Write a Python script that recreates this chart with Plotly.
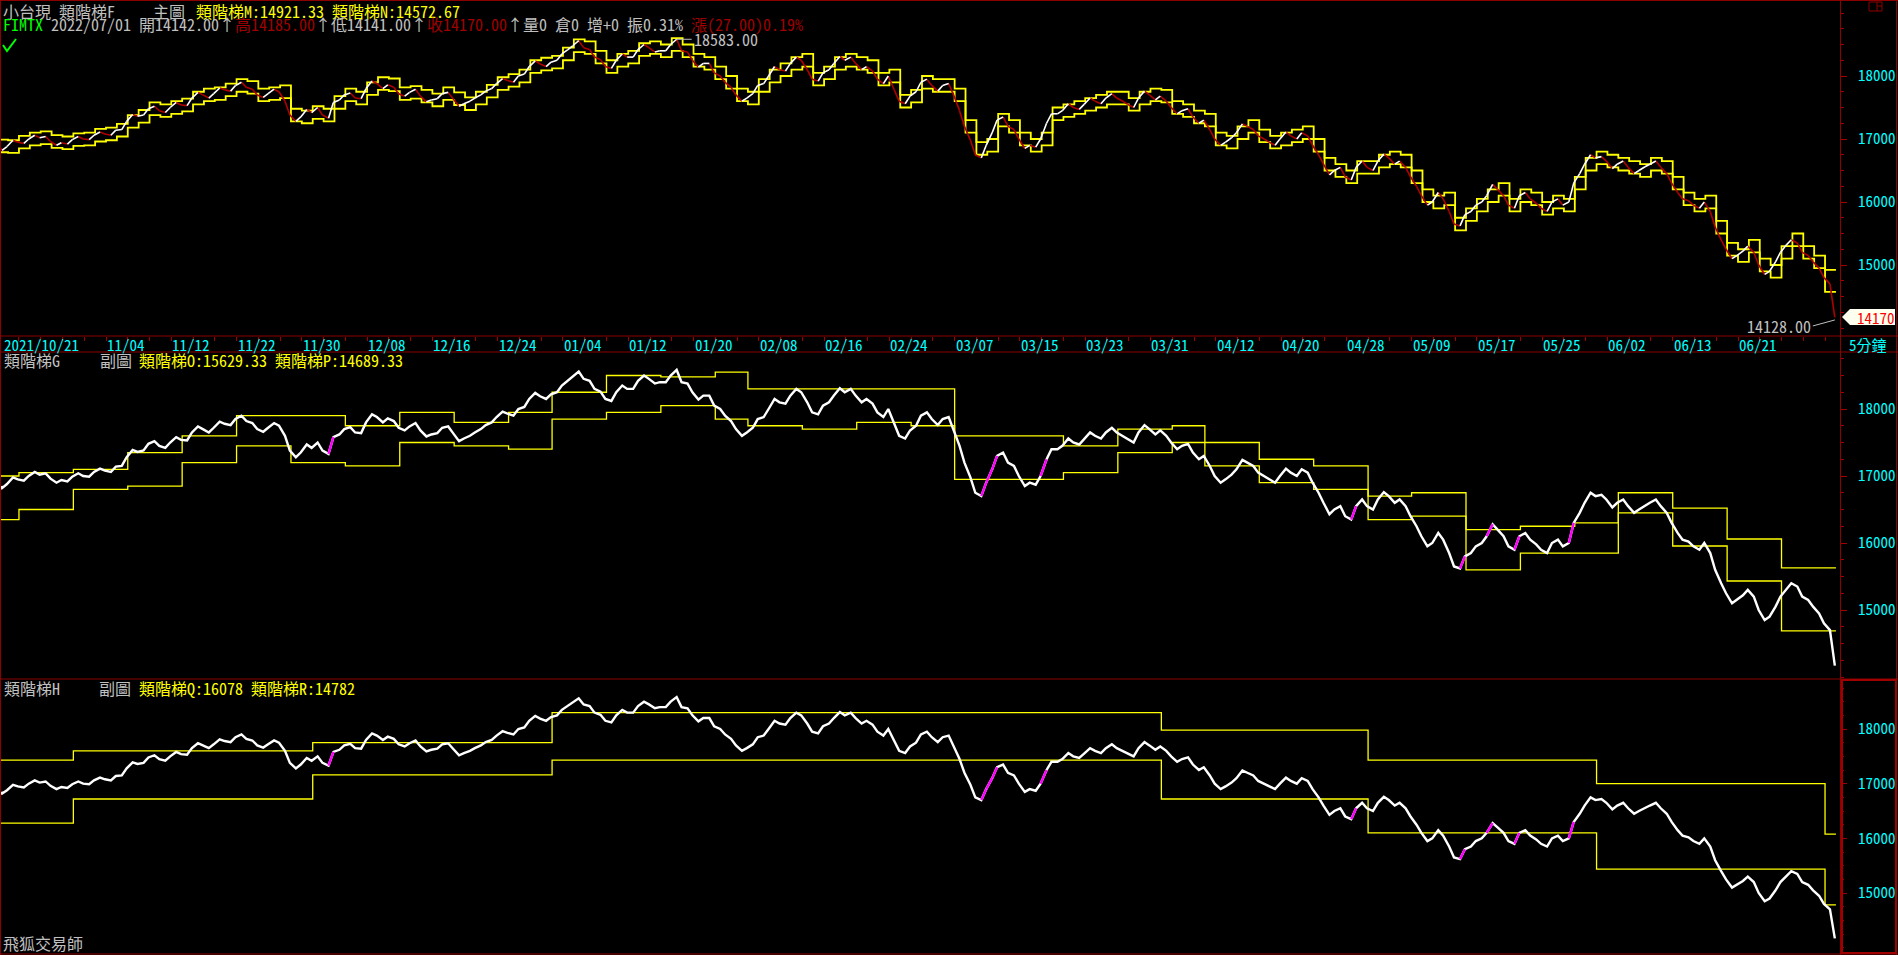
import plotly.graph_objects as go

# ---------------- data ----------------
axis_labels = ["2021/10/21", "11/04", "11/12", "11/22", "11/30", "12/08", "12/16", "12/24",
               "01/04", "01/12", "01/20", "02/08", "02/16", "02/24", "03/07", "03/15",
               "03/23", "03/31", "04/12", "04/20", "04/28", "05/09", "05/17", "05/25",
               "06/02", "06/13", "06/21"]
axis_label_days = [0, 10, 16, 22, 28, 34, 40, 46, 52, 58, 64, 70, 76, 82, 88, 94,
                   100, 106, 112, 118, 124, 130, 136, 142, 148, 154, 160]
y_ticks = [15000, 16000, 17000, 18000]

first_open = 16850
close = [16880, 16950, 17000, 17020, 16960, 16940, 16990, 17000, 17060, 17080,
         17140, 17280, 17360, 17480, 17450, 17500, 17540, 17650, 17700, 17720,
         17780, 17850, 17820, 17700, 17720, 17750, 17380, 17350, 17420, 17380,
         17580, 17700, 17650, 17800, 17880, 17860, 17720, 17740, 17680, 17620,
         17720, 17640, 17560, 17650, 17760, 17880, 17930, 18000, 18150, 18190,
         18220, 18350, 18480, 18450, 18300, 18150, 18250, 18300, 18420, 18450,
         18400, 18500, 18400, 18250, 18200, 18050, 17900, 17700, 17650, 17850,
         18000, 18100, 18200, 18250, 17950, 18050, 18200, 18250, 18200, 18150,
         17950, 18000, 17600, 17680, 17900, 17850, 17850, 17700, 17200, 16750,
         16900, 17300, 17200, 17000, 16900, 17000, 17400, 17450, 17500, 17550,
         17600, 17650, 17650, 17550, 17650, 17700, 17680, 17500, 17450, 17350,
         17300, 17000, 16950, 17100, 17200, 17050, 16950, 17000, 17050, 17100,
         16900, 16600, 16500, 16400, 16550, 16550, 16650, 16700, 16650, 16400,
         16100, 16000, 16050, 15650, 15800, 15950, 16100, 16200, 15950, 16100,
         16050, 15900, 16000, 15950, 16300, 16600, 16700, 16650, 16600, 16550,
         16500, 16600, 16550, 16300, 16050, 15950, 16000, 15600, 15250, 15150,
         15300, 15000, 14900, 15200, 15400, 15200, 15050, 14800, 14170]
# intraday swing (the excursion inside each session)
swing = [16820, 16980, 16930, 17060, 17040, 16900, 16920, 17040, 16990, 17110,
         17060, 17150, 17390, 17380, 17520, 17420, 17580, 17530, 17740, 17650,
         17810, 17760, 17900, 17790, 17660, 17790, 17600, 17280, 17470, 17500,
         17330, 17620, 17730, 17640, 17920, 17800, 17820, 17680, 17790, 17590,
         17640, 17740, 17520, 17600, 17700, 17800, 17960, 17900, 18030, 18240,
         18150, 18250, 18420, 18560, 18420, 18260, 18120, 18350, 18300, 18500,
         18380, 18400, 18583, 18380, 18140, 18200, 18000, 17820, 17600, 17720,
         17880, 18150, 18080, 18300, 18100, 17920, 18100, 18310, 18300, 18100,
         18080, 17880, 17780, 17560, 17750, 17950, 17760, 17880, 17450, 16980,
         16700, 17100, 17350, 17150, 16850, 16870, 17250, 17400, 17560, 17470,
         17650, 17560, 17720, 17600, 17500, 17760, 17620, 17600, 17400, 17480,
         17250, 17150, 16900, 17020, 17240, 17150, 17000, 16900, 17110, 17000,
         17050, 16750, 16430, 16550, 16350, 16650, 16500, 16760, 16600, 16550,
         16250, 15950, 16150, 15850, 15620, 15850, 16000, 16280, 16100, 15900,
         16150, 15980, 15850, 16050, 16000, 16450, 16750, 16720, 16530, 16650,
         16450, 16560, 16650, 16450, 16150, 16020, 15900, 15850, 15400, 15100,
         15220, 15200, 14850, 15050, 15320, 15350, 15150, 14950, 14700]

ladder_M = [16990, 16980, 17050, 17100, 17120, 17060, 17040, 17090, 17100, 17160,
            17180, 17240, 17380, 17460, 17580, 17550, 17600, 17640, 17750, 17800,
            17820, 17880, 17950, 17920, 17800, 17820, 17850, 17480, 17450, 17520,
            17480, 17680, 17800, 17750, 17900, 17980, 17960, 17820, 17840, 17780,
            17720, 17820, 17740, 17660, 17750, 17860, 17980, 18030, 18100, 18250,
            18290, 18320, 18450, 18580, 18550, 18400, 18250, 18350, 18400, 18520,
            18550, 18500, 18600, 18500, 18350, 18300, 18150, 18000, 17800, 17750,
            17950, 18100, 18200, 18300, 18350, 18050, 18150, 18300, 18350, 18300,
            18250, 18050, 18100, 17700, 17780, 18000, 17950, 17950, 17800, 17300,
            16950, 17000, 17400, 17300, 17100, 17000, 17100, 17500, 17550, 17600,
            17650, 17700, 17750, 17750, 17650, 17750, 17800, 17780, 17600, 17550,
            17450, 17400, 17100, 17050, 17200, 17300, 17150, 17050, 17100, 17150,
            17200, 17000, 16700, 16600, 16500, 16650, 16650, 16750, 16800, 16750,
            16500, 16200, 16100, 16150, 15750, 15900, 16050, 16200, 16300, 16050,
            16200, 16150, 16000, 16100, 16050, 16400, 16700, 16800, 16750, 16700,
            16650, 16600, 16700, 16650, 16400, 16150, 16050, 16100, 15700, 15350,
            15250, 15400, 15100, 15000, 15300, 15500, 15300, 15150, 14921.33]
ladder_N = [16790, 16780, 16850, 16900, 16920, 16860, 16840, 16890, 16900, 16960,
            16980, 17040, 17180, 17260, 17380, 17350, 17400, 17440, 17550, 17600,
            17620, 17680, 17750, 17720, 17600, 17620, 17650, 17280, 17250, 17320,
            17280, 17480, 17600, 17550, 17700, 17780, 17760, 17620, 17640, 17580,
            17520, 17620, 17540, 17460, 17550, 17660, 17780, 17830, 17900, 18050,
            18090, 18120, 18250, 18380, 18350, 18200, 18050, 18150, 18200, 18320,
            18350, 18300, 18400, 18300, 18150, 18100, 17950, 17800, 17600, 17550,
            17750, 17900, 18000, 18100, 18150, 17850, 17950, 18100, 18150, 18100,
            18050, 17850, 17900, 17500, 17580, 17800, 17750, 17750, 17600, 17100,
            16750, 16800, 17200, 17100, 16900, 16800, 16900, 17300, 17350, 17400,
            17450, 17500, 17550, 17550, 17450, 17550, 17600, 17580, 17400, 17350,
            17250, 17200, 16900, 16850, 17000, 17100, 16950, 16850, 16900, 16950,
            17000, 16800, 16500, 16400, 16300, 16450, 16450, 16550, 16600, 16550,
            16300, 16000, 15900, 15950, 15550, 15700, 15850, 16000, 16100, 15850,
            16000, 15950, 15800, 15900, 15850, 16200, 16500, 16600, 16550, 16500,
            16450, 16400, 16500, 16450, 16200, 15950, 15850, 15900, 15500, 15150,
            15050, 15200, 14900, 14800, 15100, 15300, 15100, 14950, 14572.67]

week_start = [0, 2, 7, 12, 17, 22, 27, 32, 37, 42, 47, 51, 56, 61, 66, 69, 74, 79,
              84, 88, 93, 98, 103, 108, 111, 116, 121, 126, 130, 135, 140, 145, 149,
              154, 159, 164]
ladder_O = [17000, 17050, 17100, 17350, 17600, 17900, 17900, 17750, 17950, 17800,
            17950, 18250, 18500, 18480, 18550, 18300, 18300, 18300, 18300, 17600,
            17600, 17450, 17700, 17750, 17500, 17250, 17150, 16700, 16750, 16200,
            16250, 16300, 16750, 16522, 16060, 15629.33]
ladder_P = [16350, 16500, 16800, 16850, 17200, 17450, 17200, 17150, 17500, 17450,
            17400, 17850, 17950, 18050, 17850, 17750, 17700, 17800, 17750, 16950,
            16950, 17050, 17350, 17500, 17150, 16900, 16800, 16350, 16400, 15600,
            15850, 15850, 16450, 15955, 15433, 14689.33]

month_start = [0, 7, 29, 51, 69, 84, 107, 126, 147, 168]
ladder_Q = [17430, 17600, 17750, 18300, 18300, 18300, 17980, 17430, 17000, 16078]
ladder_R = [16280, 16720, 17160, 17430, 17430, 17430, 16720, 16100, 15436, 14782]

peak_value = 18583.00
low_value = 14128.00
last_price = 14170
quote_date = "2022/07/01"
quote_open, quote_high, quote_low, quote_close = 14142.00, 14185.00, 14141.00, 14170.00
quote_change, quote_pct, quote_amp = 27.00, 0.19, 0.31
symbol = "FIMTX"

# ---------------- geometry / style ----------------
W, H = 1898, 955
ML, MR = 1, 58
PW = W - ML - MR
PX_PER_DAY = 10.88
T0 = (ML + 2.8) / PX_PER_DAY
T1 = T0 + PW / PX_PER_DAY
FONT = "Noto Sans Mono CJK TC, Noto Sans CJK TC, monospace"
RED = "#8c0000"
GRAY = "#c0c0c0"
YEL = "#ffff00"
CYAN = "#00ffff"
DRED = "#a00000"


def xp(px):
    return (px - ML) / PW


def yp(py):
    return 1 - py / H


def vrange(py_top, py_bot, py_ref, ppk):
    return [18000 - (py_bot - py_ref) / ppk * 1000, 18000 + (py_ref - py_top) / ppk * 1000]


fig = go.Figure()


def steps(starts, vals, axis):
    xs = list(starts) + [169]
    ys = list(vals) + [vals[-1]]
    return go.Scatter(x=xs, y=ys, mode="lines",
                      line=dict(color=YEL, width=1.8 if axis == 1 else 1.3, shape="hv"),
                      xaxis="x" if axis == 1 else f"x{axis}", yaxis="y" if axis == 1 else f"y{axis}",
                      hoverinfo="skip", showlegend=False)


days = list(range(len(close)))
px_path = [T0 + 0.02]
py_path = [first_open]
for d in days:
    px_path += [d + 0.45, d + 0.9]
    py_path += [swing[d], close[d]]

# panel 1 : ladders M / N and the price drawn white (rising) / dark red (falling)
fig.add_trace(steps(days, ladder_M, 1))
fig.add_trace(steps(days, ladder_N, 1))
up_x, up_y, dn_x, dn_y = [], [], [], []
for i in range(len(px_path) - 1):
    seg_x = [px_path[i], px_path[i + 1], None]
    seg_y = [py_path[i], py_path[i + 1], None]
    if py_path[i + 1] >= py_path[i]:
        up_x += seg_x
        up_y += seg_y
    else:
        dn_x += seg_x
        dn_y += seg_y
fig.add_trace(go.Scatter(x=dn_x, y=dn_y, mode="lines", line=dict(color="#b00000", width=1.6),
                         hoverinfo="skip", showlegend=False))
fig.add_trace(go.Scatter(x=up_x, y=up_y, mode="lines", line=dict(color="#ffffff", width=1.6),
                         hoverinfo="skip", showlegend=False))

# panels 2 and 3
for ax, (la, lb, starts) in zip([2, 3], [(ladder_O, ladder_P, week_start), (ladder_Q, ladder_R, month_start)]):
    fig.add_trace(steps(starts, la, ax))
    fig.add_trace(steps(starts, lb, ax))
    fig.add_trace(go.Scatter(x=px_path, y=py_path, mode="lines", line=dict(color="#ffffff", width=2.4),
                             xaxis=f"x{ax}", yaxis=f"y{ax}", hoverinfo="skip", showlegend=False))
    mx, my = [], []
    for i in range(len(px_path) - 1):
        if py_path[i + 1] - py_path[i] > 170:
            mx += [px_path[i], px_path[i + 1], None]
            my += [py_path[i], py_path[i + 1], None]
    fig.add_trace(go.Scatter(x=mx, y=my, mode="lines", line=dict(color="#ff00ff", width=2.4),
                             xaxis=f"x{ax}", yaxis=f"y{ax}", hoverinfo="skip", showlegend=False))

yaxis_common = dict(side="right", showgrid=False, zeroline=False, showline=False,
                    tickmode="array", tickvals=y_ticks, ticktext=[str(v) for v in y_ticks],
                    ticks="outside", ticklen=6, tickwidth=1, tickcolor=DRED,
                    tickfont=dict(family=FONT, size=15, color=CYAN), ticklabelstandoff=8,
                    minor=dict(ticks="outside", ticklen=3, tickwidth=1, tickcolor=DRED,
                               tickmode="linear", tick0=0, dtick=250, showgrid=False))
xaxis_common = dict(range=[T0, T1], showgrid=False, zeroline=False, showline=False,
                    showticklabels=False, domain=[0, 1])

fig.update_layout(
    width=W, height=H, margin=dict(l=ML, r=MR, t=0, b=0),
    paper_bgcolor="#000000", plot_bgcolor="#000000", showlegend=False,
    xaxis=dict(**xaxis_common, anchor="y", ticks="outside", tickmode="array",
               tickvals=list(range(0, 170, 2)), ticklen=4, tickcolor=DRED, tickwidth=1),
    xaxis2=dict(**xaxis_common, anchor="y2", matches="x"),
    xaxis3=dict(**xaxis_common, anchor="y3", matches="x"),
    yaxis=dict(**yaxis_common, domain=[yp(336), yp(0)], range=vrange(0, 336, 76, 63), anchor="x"),
    yaxis2=dict(**yaxis_common, domain=[yp(679), yp(352)], range=vrange(352, 679, 409, 67), anchor="x2"),
    yaxis3=dict(**yaxis_common, domain=[yp(953), yp(679)], range=vrange(679, 953, 729, 54.67), anchor="x3"),
)

shapes = []


def hline(py, x0=0, x1=W, color=RED, width=1):
    shapes.append(dict(type="line", xref="paper", yref="paper", x0=xp(x0), x1=xp(x1), y0=yp(py), y1=yp(py),
                       line=dict(color=color, width=width), layer="above"))


def vline(px, y0=0, y1=H, color=RED, width=1):
    shapes.append(dict(type="line", xref="paper", yref="paper", x0=xp(px), x1=xp(px), y0=yp(y0), y1=yp(y1),
                       line=dict(color=color, width=width), layer="above"))


hline(0.5)
hline(336)
hline(352)
hline(679)
hline(954)
vline(0.5)
vline(1840.5)
vline(1896.5)
shapes.append(dict(type="rect", xref="paper", yref="paper", x0=xp(1842), x1=xp(1896), y0=yp(953), y1=yp(680),
                   line=dict(color="#a00000", width=2), layer="above"))
shapes.append(dict(type="rect", xref="paper", yref="paper", x0=xp(1869), x1=xp(1882), y0=yp(11), y1=yp(2),
                   line=dict(color=RED, width=1), layer="above"))
vline(1877, 2, 11)
hline(6, 1877, 1882)
shapes.append(dict(type="path", xref="paper", yref="paper",
                   path=f"M {xp(3)},{yp(45)} L {xp(7)},{yp(51)} L {xp(16)},{yp(39)}",
                   line=dict(color="#00ff00", width=2), layer="above"))
shapes.append(dict(type="path", xref="paper", yref="paper",
                   path=(f"M {xp(1842)},{yp(317)} L {xp(1850)},{yp(309)} L {xp(1895)},{yp(309)} "
                         f"L {xp(1895)},{yp(325)} L {xp(1850)},{yp(325)} Z"),
                   fillcolor="#fffff0", line=dict(width=0), layer="above"))
fig.update_layout(shapes=shapes)

ann = []


def text(s, px, py, color, size=16, vanchor="middle"):
    ann.append(dict(text=s, x=xp(px), y=yp(py), xref="paper", yref="paper", xanchor="left", yanchor=vanchor,
                    showarrow=False, font=dict(family=FONT, size=size, color=color), borderpad=0))


R1, R2 = 10.5, 24
text("小台現 類階梯F", 2, R1, GRAY)
text("主圖", 152, R1, GRAY)
text(f"類階梯M:{ladder_M[-1]:.2f} 類階梯N:{ladder_N[-1]:.2f}", 195, R1, YEL)
text(symbol, 2, R2, "#00ff00")
text(quote_date, 50, R2, GRAY)
text(f"開{quote_open:.2f}↑", 138, R2, GRAY)
text(f"高{quote_high:.2f}", 234, R2, DRED)
text("↑", 314, R2, GRAY)
text(f"低{quote_low:.2f}↑", 330, R2, GRAY)
text(f"收{quote_close:.2f}", 426, R2, DRED)
text("↑", 506, R2, GRAY)
text(f"量0 倉0 增+0 振{quote_amp:.2f}%", 522, R2, GRAY)
text(f"漲({quote_change:.2f}){quote_pct:.2f}%", 690, R2, DRED)

text("類階梯G", 3, 360, GRAY)
text("副圖", 99, 360, GRAY)
text(f"類階梯O:{ladder_O[-1]:.2f} 類階梯P:{ladder_P[-1]:.2f}", 138, 360, YEL)
text("類階梯H", 3, 688, GRAY)
text("副圖", 98, 688, GRAY)
text(f"類階梯Q:{ladder_Q[-1]:.0f} 類階梯R:{ladder_R[-1]:.0f}", 138, 688, YEL)
text("飛狐交易師", 2, 943, GRAY)

for lab, d in zip(axis_labels, axis_label_days):
    px = max(3, -2.8 + d * PX_PER_DAY)
    text(lab, px, 344, CYAN, size=15)
text("5分鐘", 1848, 344, CYAN, size=15)
text(f"{last_price}", 1856, 317, "#ff0000", size=15)

# highest / lowest price markers in the main panel
i_peak = max(range(len(py_path)), key=lambda k: py_path[k])
ann.append(dict(x=px_path[i_peak], y=peak_value, xref="x", yref="y", text=f"{peak_value:.2f}", showarrow=True,
                ax=15, ay=0, axref="pixel", ayref="pixel", arrowhead=0, arrowcolor=GRAY, arrowwidth=1,
                xanchor="left", yanchor="middle", font=dict(family=FONT, size=16, color=GRAY), standoff=0))
ann.append(dict(x=px_path[-1], y=low_value, xref="x", yref="y", text=f"{low_value:.2f}", showarrow=True,
                ax=-22, ay=6, axref="pixel", ayref="pixel", arrowhead=0, arrowcolor=GRAY, arrowwidth=1,
                xanchor="right", yanchor="middle", font=dict(family=FONT, size=16, color=GRAY), standoff=0))
fig.update_layout(annotations=ann)

fig.write_html("out.html", config={"displayModeBar": False},
               post_script="document.body.style.margin='0';document.body.style.background='#000';"
                           "document.body.style.overflow='hidden';")
